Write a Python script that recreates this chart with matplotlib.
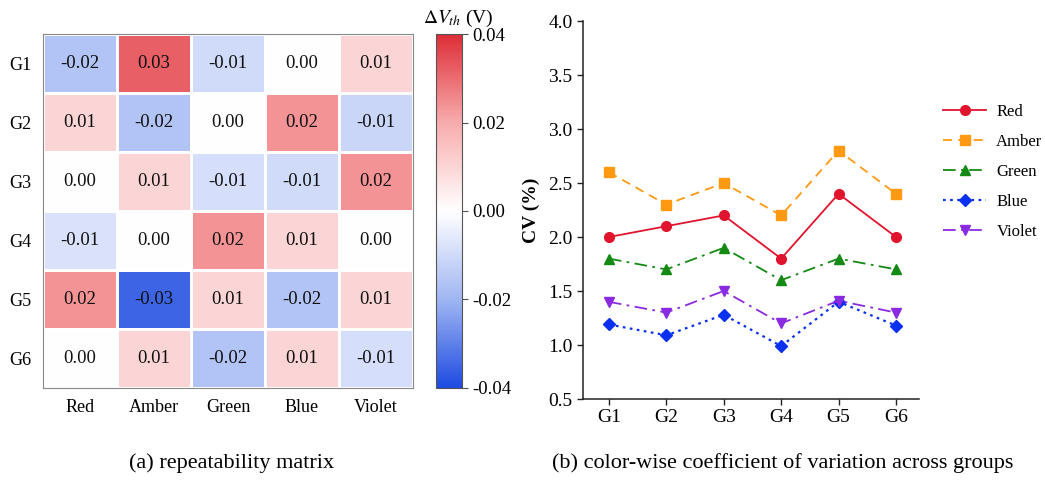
import numpy as np
import matplotlib
matplotlib.use("Agg")
import matplotlib.pyplot as plt
from matplotlib.colors import LinearSegmentedColormap

plt.rcParams['font.family'] = ['Liberation Serif', 'DejaVu Serif']
plt.rcParams['mathtext.fontset'] = 'stix'

# data
groups = ["G1", "G2", "G3", "G4", "G5", "G6"]
colors = ["Red", "Amber", "Green", "Blue", "Violet"]

# repeatability matrix, delta V_th (V), rows = groups, cols = colors
dvth = np.array([
    [-0.016, 0.032, -0.010, 0.000, 0.010],
    [0.010, -0.016, 0.000, 0.024, -0.011],
    [0.000, 0.010, -0.009, -0.010, 0.024],
    [-0.008, 0.000, 0.024, 0.010, 0.000],
    [0.024, -0.035, 0.010, -0.016, 0.010],
    [0.000, 0.010, -0.016, 0.010, -0.009],
])
dvth_labels = [
    ["-0.02", "0.03", "-0.01", "0.00", "0.01"],
    ["0.01", "-0.02", "0.00", "0.02", "-0.01"],
    ["0.00", "0.01", "-0.01", "-0.01", "0.02"],
    ["-0.01", "0.00", "0.02", "0.01", "0.00"],
    ["0.02", "-0.03", "0.01", "-0.02", "0.01"],
    ["0.00", "0.01", "-0.02", "0.01", "-0.01"],
]

# coefficient of variation (%) per color across groups
cv_red = [2.0, 2.1, 2.2, 1.8, 2.4, 2.0]
cv_amber = [2.6, 2.3, 2.5, 2.2, 2.8, 2.4]
cv_green = [1.8, 1.7, 1.9, 1.6, 1.8, 1.7]
cv_blue = [1.19, 1.09, 1.28, 0.99, 1.40, 1.18]
cv_violet = [1.4, 1.3, 1.5, 1.2, 1.41, 1.3]

fig = plt.figure(figsize=(10.45, 4.83), dpi=100)

# (a) heatmap
ax1 = fig.add_axes([0.0411, 0.1967, 0.3541, 0.7329])
cax = fig.add_axes([0.4172, 0.1967, 0.0249, 0.7329])
cmap = LinearSegmentedColormap.from_list("bwr_soft", [
    (0.0, "#1e4be1"), (0.25, "#a0b6f3"), (0.5, "#ffffff"),
    (0.75, "#f8acac"), (1.0, "#de2d37")])
mesh = ax1.pcolormesh(dvth, cmap=cmap, vmin=-0.04, vmax=0.04,
                      edgecolors="white", linewidth=1.0)
ax1.set_xlim(0, len(colors))
ax1.set_ylim(len(groups), 0)
ax1.set_xticks(np.arange(len(colors)) + 0.5)
ax1.set_xticklabels(colors, fontsize=13)
ax1.set_yticks(np.arange(len(groups)) + 0.5)
ax1.set_yticklabels(groups, fontsize=13)
ax1.tick_params(length=0, pad=8)
for s in ax1.spines.values():
    s.set_color("#888888")
    s.set_linewidth(0.8)
for i in range(len(groups)):
    for j in range(len(colors)):
        ax1.text(j + 0.5, i + 0.5, dvth_labels[i][j], ha="center", va="center",
                 fontsize=13.5, color="#111111")

cb = fig.colorbar(mesh, cax=cax, ticks=[-0.04, -0.02, 0.0, 0.02, 0.04])
cb.ax.set_yticklabels(["-0.04", "-0.02", "0.00", "0.02", "0.04"], fontsize=13.5)
cb.outline.set_edgecolor("#555555")
cb.outline.set_linewidth(0.8)
cb.ax.tick_params(length=4, width=0.8, color="#555555")
fig.text(0.439, 0.962, r"$\Delta V_{th}$ (V)", ha="center", va="center", fontsize=14)

# (b) line plot
ax2 = fig.add_axes([0.5579, 0.1739, 0.3215, 0.7826])
x = np.arange(len(groups))
h1, = ax2.plot(x, cv_red, color="#e0142d", ls="-", marker="o", ms=7, lw=1.3, label="Red")
h2, = ax2.plot(x, cv_amber, color="#ff9912", ls=(0, (5, 3.5)), marker="s", ms=6.5, lw=1.3, label="Amber")
h3, = ax2.plot(x, cv_green, color="#138a13", ls=(0, (7, 3, 1.5, 3)), marker="^", ms=7, lw=1.3, label="Green")
h4, = ax2.plot(x, cv_blue, color="#0a30f0", ls=(0, (1.2, 2)), marker="D", ms=5.8, lw=1.6, label="Blue")
h5, = ax2.plot(x, cv_violet, color="#8a2be2", ls=(0, (7, 3, 1.5, 3)), marker="v", ms=7, lw=1.3, label="Violet")
ax2.set_xlim(-0.45, 5.4)
ax2.set_ylim(0.5, 4.0)
ax2.set_yticks(np.arange(0.5, 4.01, 0.5))
ax2.set_yticklabels([f"{v:.1f}" for v in np.arange(0.5, 4.01, 0.5)], fontsize=14)
ax2.set_xticks(x)
ax2.set_xticklabels(groups, fontsize=14)
ax2.set_ylabel("CV (%)", fontsize=14, fontweight="bold", labelpad=6)
ax2.spines["top"].set_visible(False)
ax2.spines["right"].set_visible(False)
for s in ("left", "bottom"):
    ax2.spines[s].set_linewidth(1.1)
    ax2.spines[s].set_color("#222222")
ax2.tick_params(length=4, width=1.0, color="#222222")

fig.legend(handles=[h1, h2, h3, h4, h5], loc="center left",
           bbox_to_anchor=(0.9024, 0.644), frameon=False, fontsize=12,
           handlelength=2.6, handletextpad=0.6, labelspacing=0.85,
           borderaxespad=0, borderpad=0)

fig.text(0.222, 0.041, "(a) repeatability matrix", ha="center", va="center", fontsize=16)
fig.text(0.749, 0.041, "(b) color-wise coefficient of variation across groups",
         ha="center", va="center", fontsize=16)

fig.savefig("out.png", dpi=100)
